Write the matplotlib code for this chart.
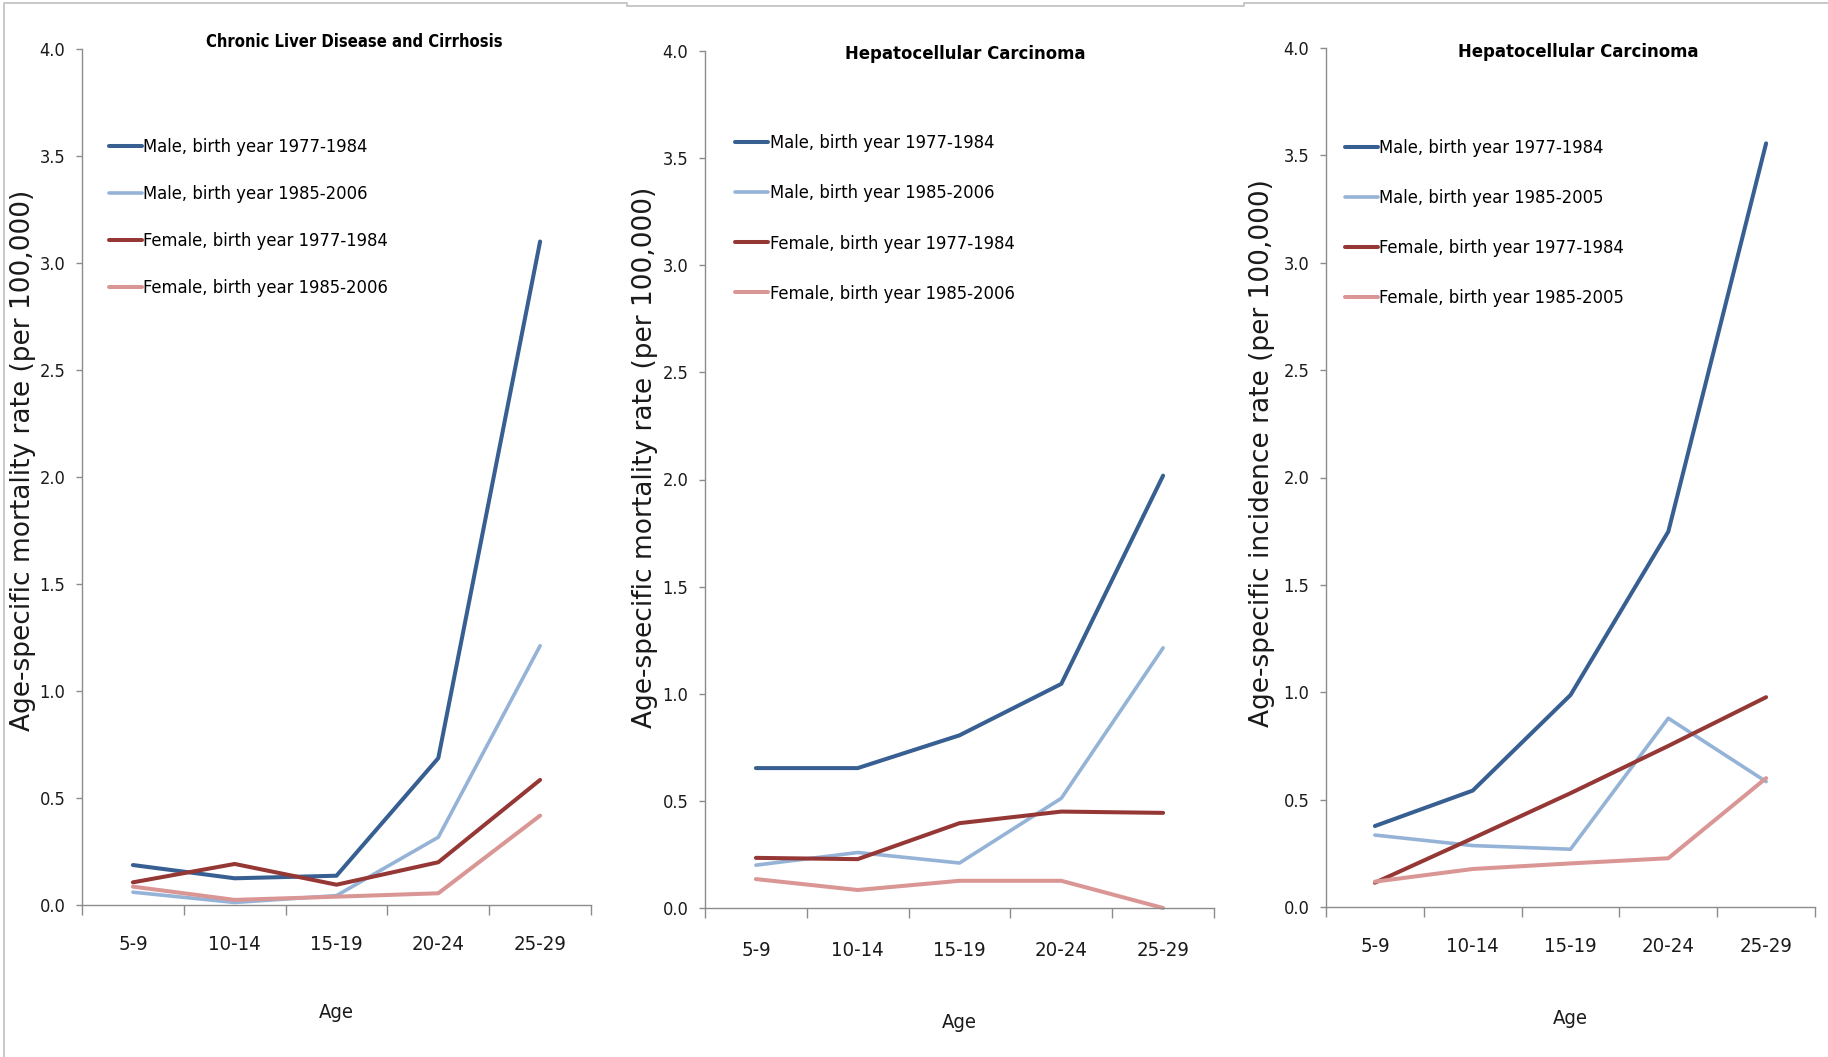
import matplotlib
matplotlib.use("Agg")
import matplotlib.pyplot as plt
from matplotlib import font_manager
from matplotlib.font_manager import FontProperties
from matplotlib.textpath import TextPath
from matplotlib.lines import Line2D
from matplotlib.ticker import FixedLocator, FormatStrFormatter

# ---- data -------------------------------------------------------------
age_groups = ["5-9", "10-14", "15-19", "20-24", "25-29"]

titles = ["Chronic Liver Disease and Cirrhosis",
          "Hepatocellular Carcinoma",
          "Hepatocellular Carcinoma"]
ylabels = ["Age-specific mortality rate (per 100,000)",
           "Age-specific mortality rate (per 100,000)",
           "Age-specific incidence rate (per 100,000)"]

labels_2006 = ["Male, birth year 1977-1984", "Male, birth year 1985-2006",
               "Female, birth year 1977-1984", "Female, birth year 1985-2006"]
labels_2005 = ["Male, birth year 1977-1984", "Male, birth year 1985-2005",
               "Female, birth year 1977-1984", "Female, birth year 1985-2005"]

# Chronic liver disease and cirrhosis mortality
cld_male_7784 = [0.185, 0.123, 0.135, 0.685, 3.10]
cld_male_8506 = [0.058, 0.010, 0.042, 0.315, 1.21]
cld_female_7784 = [0.104, 0.190, 0.093, 0.198, 0.583]
cld_female_8506 = [0.084, 0.022, 0.037, 0.053, 0.416]

# Hepatocellular carcinoma mortality
hccm_male_7784 = [0.653, 0.653, 0.806, 1.046, 2.018]
hccm_male_8506 = [0.200, 0.259, 0.210, 0.512, 1.214]
hccm_female_7784 = [0.234, 0.228, 0.396, 0.450, 0.444]
hccm_female_8506 = [0.135, 0.084, 0.127, 0.127, 0.0]

# Hepatocellular carcinoma incidence
hcci_male_7784 = [0.377, 0.542, 0.987, 1.748, 3.556]
hcci_male_8505 = [0.335, 0.286, 0.269, 0.879, 0.584]
hcci_female_7784 = [0.113, 0.320, 0.530, 0.750, 0.977]
hcci_female_8505 = [0.118, 0.177, 0.203, 0.227, 0.600]

y_ticks = [0.0, 0.5, 1.0, 1.5, 2.0, 2.5, 3.0, 3.5, 4.0]

# ---- fonts ------------------------------------------------------------
DPI = 100


def _weight(w):
    if isinstance(w, (int, float)):
        return int(w)
    return {"normal": 400, "regular": 400, "book": 400, "medium": 500,
            "semibold": 600, "demibold": 600, "bold": 700, "heavy": 800,
            "black": 900, "light": 300}.get(str(w).lower(), 400)


def pick_condensed(bold):
    rank = {"extra-condensed": 0, "condensed": 1, "ultra-condensed": 2,
            "semi-condensed": 3}
    best, best_key = None, None
    for f in font_manager.fontManager.ttflist:
        if f.style != "normal":
            continue
        st = str(f.stretch)
        if st in rank:
            r = rank[st]
        elif "Condensed" in f.name or "Narrow" in f.name:
            r = 4
        else:
            continue
        w = _weight(f.weight)
        wdiff = abs(w - (700 if bold else 400))
        key = (r, wdiff)
        if best_key is None or key < best_key:
            best, best_key = f, key
    if best is not None and best_key[1] <= 100:
        return FontProperties(fname=best.fname)
    return FontProperties(family="Liberation Sans",
                          weight="bold" if bold else "normal")


cond_regular = pick_condensed(False)
cond_bold = pick_condensed(True)


def sized(fp, text, target_px):
    """Copy of fp whose size makes `text` about target_px wide."""
    p = fp.copy()
    p.set_size(20)
    w = TextPath((0, 0), text, prop=p).get_extents().width * DPI / 72.0
    p.set_size(20 * target_px / w)
    return p


fp_ytick = sized(cond_regular, "4.0", 24)
fp_xtick = sized(cond_regular, "10-14", 50)
fp_xlabel = sized(cond_regular, "Age", 34)
fp_legend = sized(cond_regular, "Male, birth year 1977-1984", 222)

# ---- styling ----------------------------------------------------------
colors = ["#375F91", "#95B3D7", "#953735", "#DA9694"]
widths = [2.9, 2.6, 2.9, 2.9]
axis_gray = "#8C8C8C"
text_color = "#1a1a1a"

fig = plt.figure(figsize=(18.28, 10.57), dpi=DPI)
W, H = 1828.0, 1057.0

# panel boxes in pixels: left, right, top, bottom
boxes = [(82, 591, 49, 904.6), (705, 1214, 51, 908), (1326, 1815, 48, 907)]
title_pos = [(354, 42), (965, 54), (1578, 52)]
title_width = [295, 237, 238]
legend_text_x = [143, 769.5, 1379]
legend_rows = [(147, 288), (143, 293.8), (148, 298)]
xtick_y = [948, 954, 950]
xlabel_y = [1012, 1022, 1019]
ylabel_xy = [(23, 460), (645, 457), (1262, 453)]

panels = [
    [cld_male_7784, cld_male_8506, cld_female_7784, cld_female_8506],
    [hccm_male_7784, hccm_male_8506, hccm_female_7784, hccm_female_8506],
    [hcci_male_7784, hcci_male_8505, hcci_female_7784, hcci_female_8505],
]
legend_labels = [labels_2006, labels_2006, labels_2005]

x = list(range(len(age_groups)))
axes = []

leg_px = fp_legend.get_size_in_points() * DPI / 72.0
xt_px = fp_xtick.get_size_in_points() * DPI / 72.0

for i, series in enumerate(panels):
    l, r, t, b = boxes[i]
    ax = fig.add_axes([l / W, 1 - b / H, (r - l) / W, (b - t) / H])
    axes.append(ax)
    for s, vals in enumerate(series):
        ax.plot(x, vals, color=colors[s], lw=widths[s],
                solid_joinstyle="round", solid_capstyle="round",
                label=legend_labels[i][s], clip_on=False)
    ax.set_xlim(-0.5, len(age_groups) - 0.5)
    ax.set_ylim(0, 4.0)

    for side in ("top", "right"):
        ax.spines[side].set_visible(False)
    for side in ("left", "bottom"):
        ax.spines[side].set_color(axis_gray)
        ax.spines[side].set_linewidth(1.0)

    ax.set_yticks(y_ticks)
    ax.yaxis.set_major_formatter(FormatStrFormatter("%.1f"))
    ax.tick_params(axis="y", direction="out", length=4, width=1.0,
                   color=axis_gray, pad=8)
    ax.set_xticks(x)
    ax.set_xticklabels(age_groups)
    ax.xaxis.set_minor_locator(
        FixedLocator([v - 0.5 for v in range(len(age_groups) + 1)]))
    pad_px = (xtick_y[i] - b) - 0.62 * xt_px
    ax.tick_params(axis="x", which="major", length=0, pad=pad_px * 72 / DPI)
    ax.tick_params(axis="x", which="minor", direction="out", length=7.5,
                   width=1.0, color=axis_gray)
    for lab in ax.get_xticklabels():
        lab.set_fontproperties(fp_xtick)
        lab.set_color(text_color)
    for lab in ax.get_yticklabels():
        lab.set_fontproperties(fp_ytick)
        lab.set_color(text_color)

    ax.set_xlabel("Age", fontproperties=fp_xlabel, color=text_color)
    ax.xaxis.set_label_coords(0.5, (b - xlabel_y[i]) / (b - t),
                              transform=ax.transAxes)
    ax.xaxis.label.set_verticalalignment("center")

    ax.set_ylabel(ylabels[i], family="DejaVu Sans", fontsize=19,
                  color=text_color)
    lx, ly = ylabel_xy[i]
    ax.yaxis.set_label_coords((lx - l) / (r - l), (b - ly) / (b - t),
                              transform=ax.transAxes)
    ax.yaxis.label.set_verticalalignment("center")

    tx, ty = title_pos[i]
    ax.text((tx - l) / (r - l), (b - ty) / (b - t), titles[i],
            transform=ax.transAxes, ha="center", va="center",
            fontproperties=sized(cond_bold, titles[i], title_width[i]),
            color="black")


def place_legend(ax, spacing, anchor):
    return ax.legend(loc="upper left", bbox_to_anchor=anchor,
                     frameon=False, borderpad=0, borderaxespad=0,
                     handlelength=33 / leg_px, handletextpad=0.08,
                     labelspacing=spacing, prop=fp_legend)


# legends: first pass, then correct row spacing and position
for i, ax in enumerate(axes):
    l, r, t, b = boxes[i]
    first, last = legend_rows[i]
    anchor = ((legend_text_x[i] - 35 - l) / (r - l), (b - first + 12) / (b - t))
    leg = place_legend(ax, 1.0, anchor)
    fig.canvas.draw()
    rend = fig.canvas.get_renderer()
    ext = [tx.get_window_extent(rend) for tx in leg.get_texts()]
    act = ((ext[0].y0 + ext[0].y1) / 2 - (ext[-1].y0 + ext[-1].y1) / 2) / 3
    want = (last - first) / 3
    spacing = 1.0 + (want - act) / leg_px
    leg = place_legend(ax, spacing, anchor)
    fig.canvas.draw()
    e0 = leg.get_texts()[0].get_window_extent(rend)
    cy = H - (e0.y0 + e0.y1) / 2
    dx = legend_text_x[i] - e0.x0
    dy = first - cy
    anchor = (anchor[0] + dx / (r - l), anchor[1] - dy / (b - t))
    place_legend(ax, spacing, anchor)

# frame edges of the three assembled panels
edge = dict(color="#C4C4C4", lw=1.3)
pts = [(4, H), (4, 3), (627, 3), (627, 6), (1244, 6), (1244, 3), (W, 3)]
fig.add_artist(Line2D([p[0] / W for p in pts], [1 - p[1] / H for p in pts],
                      transform=fig.transFigure, **edge))

fig.savefig("out.png", dpi=DPI, facecolor="white")
